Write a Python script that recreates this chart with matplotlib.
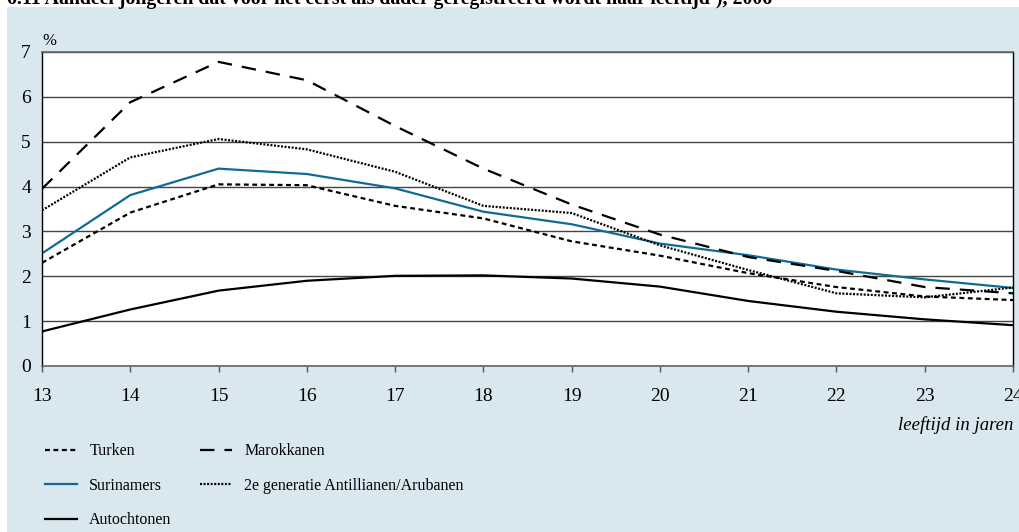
import matplotlib
matplotlib.use("Agg")
import matplotlib.pyplot as plt
from matplotlib.patches import Rectangle

# -----------------------
# Data
# -----------------------
ages = [13, 14, 15, 16, 17, 18, 19, 20, 21, 22, 23, 24]

turken = [2.30, 3.42, 4.05, 4.03, 3.57, 3.29, 2.78, 2.46, 2.07, 1.76, 1.55, 1.47]
marokkanen = [3.95, 5.88, 6.78, 6.37, 5.35, 4.40, 3.60, 2.93, 2.43, 2.12, 1.76, 1.62]
surinamers = [2.51, 3.81, 4.40, 4.28, 3.96, 3.44, 3.16, 2.73, 2.47, 2.15, 1.93, 1.74]
antillianen = [3.47, 4.65, 5.06, 4.83, 4.33, 3.57, 3.41, 2.69, 2.14, 1.62, 1.53, 1.75]
autochtonen = [0.77, 1.26, 1.68, 1.90, 2.01, 2.02, 1.95, 1.77, 1.45, 1.21, 1.04, 0.91]

y_ticks = [0, 1, 2, 3, 4, 5, 6, 7]

title = "6.11 Aandeel jongeren dat voor het eerst als dader geregistreerd wordt naar leeftijd\u00b9), 2006"

# -----------------------
# Figure
# -----------------------
W, H = 1019, 532
plt.rcParams["font.family"] = ["Liberation Serif", "DejaVu Serif"]

fig = plt.figure(figsize=(W / 100, H / 100), dpi=100)

# light blue panel behind everything
bg = fig.add_axes([0, 0, 1, 1], zorder=-10)
bg.set_axis_off()
bg.set_xlim(0, 1)
bg.set_ylim(0, 1)
bg.add_patch(Rectangle((7 / W, 0), 1 - 7 / W, 1 - 7 / H,
                       facecolor="#d9e7ef", edgecolor="none"))

# title is cut off by the top edge in the reference
fig.text(7 / W, 1 - 4 / H, title, fontsize=14.3, fontweight="bold",
         va="baseline", ha="left")

left, right, top, bottom = 42, 1013, 52, 366
ax = fig.add_axes([left / W, 1 - bottom / H, (right - left) / W, (bottom - top) / H],
                  zorder=1)
ax.set_facecolor("white")

lw = 1.6
ax.plot(ages, turken, color="black", lw=lw, linestyle=(0, (2.2, 1.6)), label="Turken")
ax.plot(ages, surinamers, color="#0f6b96", lw=lw, label="Surinamers")
ax.plot(ages, autochtonen, color="black", lw=lw, label="Autochtonen")
ax.plot(ages, marokkanen, color="black", lw=lw, linestyle=(0, (6.5, 4.5)), label="Marokkanen")
ax.plot(ages, antillianen, color="black", lw=lw, linestyle=(0, (0.9, 0.7)),
        label="2e generatie Antillianen/Arubanen")

ax.set_xlim(13, 24)
ax.set_ylim(0, 7)
ax.set_xticks(ages)
ax.set_yticks(y_ticks)
ax.tick_params(axis="x", direction="out", length=4, width=1, color="#555",
               labelsize=14, pad=12)
ax.tick_params(axis="y", length=0, labelsize=14, pad=8)
ax.grid(axis="y", color="#444", lw=1)
ax.set_axisbelow(True)

for side in ["left", "right"]:
    ax.spines[side].set_color("black")
    ax.spines[side].set_linewidth(1)
for side in ["top", "bottom"]:
    ax.spines[side].set_color("#666")
    ax.spines[side].set_linewidth(1.2)

ax.text(0.0, 1.008, "%", transform=ax.transAxes, fontsize=12, ha="left", va="bottom")
ax.text(1.0, -0.16, "leeftijd in jaren", transform=ax.transAxes, fontsize=13.5,
        style="italic", ha="right", va="top")

handles, labels = ax.get_legend_handles_labels()
fig.legend(handles, labels, ncol=2, loc="upper left",
           bbox_to_anchor=(31 / W, 1 - 429 / H), frameon=False, fontsize=11.5,
           handlelength=2.0, handletextpad=0.75, columnspacing=1.8,
           labelspacing=1.15)

fig.savefig("out.png", dpi=100, facecolor="white")
